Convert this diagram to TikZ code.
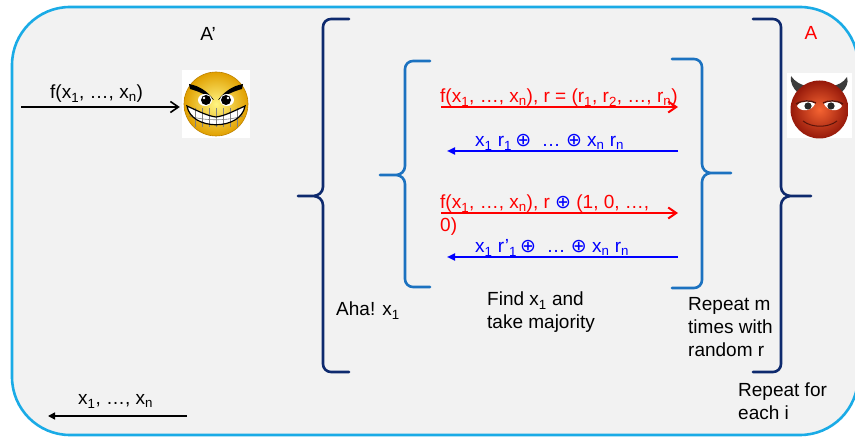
\documentclass[tikz,border=0pt]{standalone}
\usepackage{fontspec}
\setmainfont{Liberation Sans}
\newfontfamily\symfont{DejaVu Sans}
\usetikzlibrary{arrows.meta}

\definecolor{framecol}{HTML}{1AABE6}
\definecolor{panel}{HTML}{F2F2F2}
\definecolor{navy}{HTML}{0E2A6E}
\definecolor{midblue}{HTML}{1C72C0}
\definecolor{msgred}{HTML}{FF0000}
\definecolor{msgblue}{HTML}{0000FF}
\definecolor{faceinner}{RGB}{255,245,130}
\definecolor{faceouter}{RGB}{225,160,0}
\definecolor{faceedge}{RGB}{190,130,0}
\definecolor{horn}{RGB}{60,60,60}
\definecolor{devilinner}{RGB}{245,100,50}
\definecolor{devilouter}{RGB}{150,25,10}
\definecolor{pupil}{RGB}{40,40,40}
\definecolor{lid}{RGB}{90,20,10}

\newcommand{\lo}[1]{\textsubscript{#1}}
\newcommand{\oplusx}{{\symfont ⊕}}

\tikzset{
  lbl/.style={font=\fontsize{19}{23}\selectfont, inner sep=0pt, align=left},
  outerbrace/.style={draw=navy, line width=2.6pt, line cap=round},
  innerbrace/.style={draw=midblue, line width=2.6pt, line cap=round},
  openarrow/.style={line width=1.6pt, -{Straight Barb[length=8pt,width=11pt,line width=1.6pt]}},
  fillarrow/.style={line width=1.6pt, -{Triangle[length=7pt,width=7pt]}},
  redmsg/.style={draw=msgred, line width=2pt, -{Straight Barb[length=8pt,width=11pt,line width=2pt]}},
  bluemsg/.style={draw=msgblue, line width=2pt, -{Triangle[length=8pt,width=7pt]}},
}

\begin{document}
\begin{tikzpicture}[x=1pt,y=-1pt]
\useasboundingbox (0,0) rectangle (855,438);

% panel
\draw[fill=panel, draw=framecol, line width=2.6pt, rounded corners=58pt] (12,7) rectangle (858,435);

% ---------- braces ----------
\draw[outerbrace] (349,19) -- (331,19) to[out=180,in=90] (323,27) -- (323,187)
  to[out=-90,in=0] (313,196) -- (298,196)
  (313,196) to[out=0,in=90] (323,205) -- (323,364) to[out=-90,in=180] (331,372) -- (349,372);

\draw[innerbrace] (430,61) -- (413,61) to[out=180,in=90] (405,69) -- (405,166)
  to[out=-90,in=0] (396,175) -- (380,175)
  (396,175) to[out=0,in=90] (405,184) -- (405,279) to[out=-90,in=180] (413,287) -- (430,287);

\draw[innerbrace] (672,59) -- (694,59) to[out=0,in=90] (702,67) -- (702,164)
  to[out=-90,in=180] (711,173) -- (731,173)
  (711,173) to[out=180,in=90] (702,182) -- (702,280) to[out=-90,in=0] (694,288) -- (672,288);

\draw[outerbrace] (753,19) -- (773,19) to[out=0,in=90] (781,27) -- (781,187)
  to[out=-90,in=180] (791,196) -- (811,196)
  (791,196) to[out=180,in=90] (781,205) -- (781,364) to[out=-90,in=0] (773,372) -- (753,372);

% ---------- smiley ----------
\node[fill=white, minimum size=68pt, inner sep=0pt] (smiley) at (216,104) {};
\shade[inner color=faceinner, outer color=faceouter] (216,104) circle (32);
\draw[faceedge, line width=0.6pt] (216,104) circle (32);
% eyebrows
\fill[black] (189,84) .. controls (200,86) and (208,92) .. (214,100)
  .. controls (206,95) and (198,91) .. (190,89) -- cycle;
\fill[black] (243,84) .. controls (232,86) and (224,92) .. (218,100)
  .. controls (226,95) and (234,91) .. (242,89) -- cycle;
% eyes
\fill[white] (205,100) ellipse (7 and 6);
\fill[white] (227,100) ellipse (7 and 6);
\fill[black] (206,100) circle (5);
\fill[black] (226,100) circle (5);
\fill[white] (204,98) circle (1.4);
\fill[white] (228,98) circle (1.4);
% grin
\fill[white]
  (187,106) .. controls (200,112) and (208,116) .. (216,117)
  .. controls (224,116) and (232,112) .. (245,106)
  .. controls (241,131) and (191,131) .. (187,106) -- cycle;
\draw[gray, line width=0.6pt] (189,116) .. controls (205,121) and (227,121) .. (243,116);
\foreach \tx in {195,202,209,216,223,230,237}
  \draw[gray, line width=0.6pt] (\tx,108) -- (\tx,127);
\draw[black, line width=1.2pt]
  (187,106) .. controls (200,112) and (208,116) .. (216,117)
  .. controls (224,116) and (232,112) .. (245,106)
  .. controls (241,131) and (191,131) .. (187,106) -- cycle;

% ---------- devil ----------
\node[fill=white, minimum width=65pt, minimum height=65pt, inner sep=0pt] (devil) at (819.5,105.5) {};
% horns
\fill[horn] (798,93) .. controls (793,88) and (790,83) .. (791,76)
  .. controls (795,82) and (801,85) .. (807,86) -- cycle;
\fill[horn] (841,93) .. controls (846,88) and (849,83) .. (847,77)
  .. controls (843,83) and (838,85) .. (832,86) -- cycle;
\shade[inner color=devilinner, outer color=devilouter] (819.5,109.5) circle (29);
% eyes
\fill[white] (797,106) .. controls (801,99) and (812,99) .. (815,104)
  .. controls (811,112) and (800,112) .. (797,106) -- cycle;
\fill[white] (824,104) .. controls (827,99) and (838,99) .. (842,106)
  .. controls (839,112) and (828,112) .. (824,104) -- cycle;
\fill[pupil] (808,106) circle (3.6);
\fill[pupil] (831,106) circle (3.6);
\draw[lid, line width=1.4pt] (796,104) .. controls (803,100) and (810,100) .. (816,103);
\draw[lid, line width=1.4pt] (823,103) .. controls (829,100) and (836,100) .. (843,104);
% smile
\draw[lid, line width=1pt] (803,121) .. controls (812,128) and (828,128) .. (837,121);

% ---------- labels (base anchor sits on the last line) ----------
\node[lbl, anchor=base] (aprime) at (208,41) {A’};
\node[lbl, anchor=base, text=msgred] (alabel) at (811,40) {A};
\node[lbl, anchor=base west] (aha) at (336,316) {Aha! x\lo{1}};
\node[lbl, anchor=base west] (find) at (487,329) {Find x\lo{1} and\\take majority};
\node[lbl, anchor=base west] (repm) at (688,357) {Repeat m\\times with\\random r};
\node[lbl, anchor=base west] (repi) at (738,420) {Repeat for\\each i};

% ---------- outer arrows ----------
\coordinate (fin) at (21,107);
\node[lbl, anchor=base west] (flabel) at (50,99) {f(x\lo{1}, …, x\lo{n})};
\draw[openarrow] (fin) -- ([xshift=-2pt]fin -| smiley.west);

\coordinate (xstart) at (187,416);
\coordinate (xend) at (48,416);
\node[lbl, anchor=base west] (xlabel) at (78,405) {x\lo{1}, …, x\lo{n}};
\draw[fillarrow] (xstart) -- (xend);

% ---------- inner messages ----------
\coordinate (r1a) at (441,107);  \coordinate (r1b) at (678,107);
\coordinate (b1a) at (678,151);  \coordinate (b1b) at (447,151);
\coordinate (r2a) at (441,213);  \coordinate (r2b) at (678,213);
\coordinate (b2a) at (678,257);  \coordinate (b2b) at (447,257);

\node[lbl, anchor=base west, text=msgred] (m1) at (440,103)
  {f(x\lo{1}, …, x\lo{n}), r = (r\lo{1}, r\lo{2}, …, r\lo{n})};
\draw[redmsg] (r1a) -- (r1b);

\node[lbl, anchor=base west, text=msgblue] (m2) at (475,147)
  {x\lo{1} r\lo{1}\,\oplusx\ \ … \oplusx\ x\lo{n} r\lo{n}};
\draw[bluemsg] (b1a) -- (b1b);

\node[lbl, anchor=base west, text=msgred] (m3) at (440,232)
  {f(x\lo{1}, …, x\lo{n}), r \textcolor{msgblue}{\oplusx} (1, 0, …,\\0)};
\draw[redmsg] (r2a) -- (r2b);

\node[lbl, anchor=base west, text=msgblue] (m4) at (475,253)
  {x\lo{1} r’\lo{1}\,\oplusx\ \ … \oplusx\ x\lo{n} r\lo{n}};
\draw[bluemsg] (b2a) -- (b2b);

\end{tikzpicture}
\end{document}
